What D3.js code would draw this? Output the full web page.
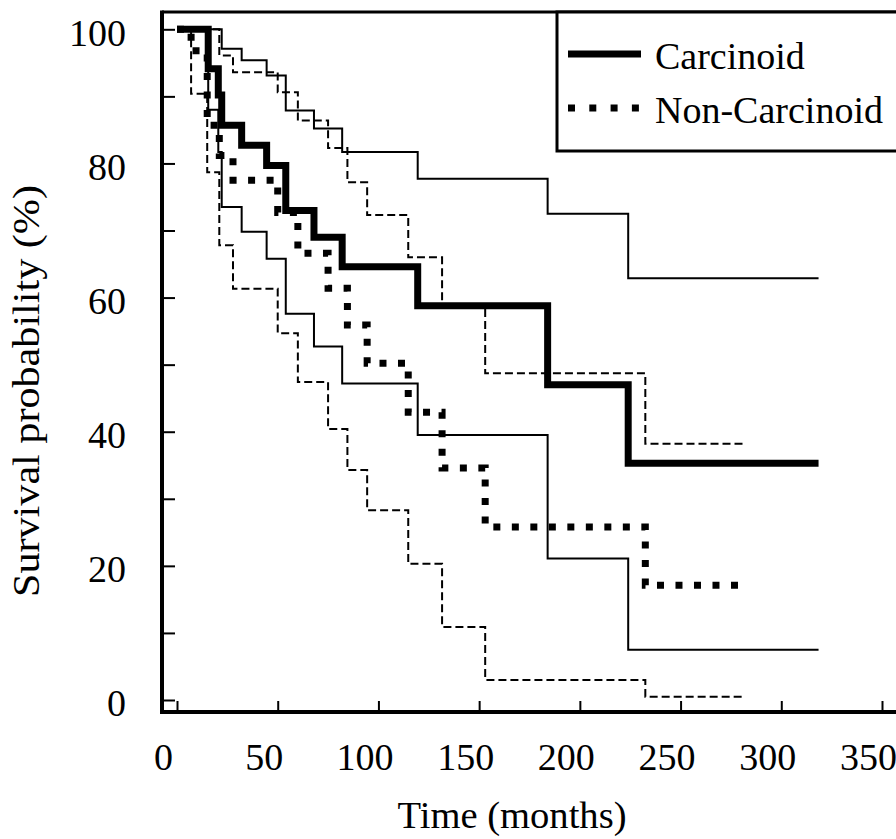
<!DOCTYPE html>
<html>
<head>
<meta charset="utf-8">
<script src="https://cdn.jsdelivr.net/npm/d3@7"></script>
<style>
  html, body { margin: 0; padding: 0; background: #fff; }
  svg { display: block; }
  text { font-family: "Liberation Serif", "Times New Roman", serif; fill: #000; }
</style>
</head>
<body>
<svg id="chart" width="896" height="839"></svg>
<script>
// Kaplan–Meier survival (%) by time (months), with 95% confidence bands.
// Each step holds its value until the next listed time; last entry = end of follow-up.
const carcinoidTime  = [0, 15.5, 20.5, 22.2, 32.1, 44.5, 54, 68, 82, 119.5, 184, 224, 318.5];
const carcinoidSurv  = [100, 94.1, 90.2, 85.7, 82.7, 79.7, 73.0, 69.0, 64.6, 58.8, 47.0, 35.3, 35.3];

const carcinoidUpperTime = [0, 22.2, 32.1, 44.5, 54, 68, 82, 119.5, 184, 224, 318.5];
const carcinoidUpper     = [100, 97.1, 95.4, 93.1, 87.9, 85.2, 81.7, 77.7, 72.5, 62.9, 62.9];

const carcinoidLowerTime = [0, 15.5, 20.5, 22.2, 32.1, 44.5, 54, 68, 82, 119.5, 184, 224, 318.5];
const carcinoidLower     = [100, 88.0, 81.7, 73.5, 69.8, 65.8, 57.6, 52.7, 47.2, 39.5, 21.1, 7.5, 7.5];

const nonCarcTime  = [0, 7, 15, 21, 27.8, 50, 60, 75, 84.6, 94.4, 114.8, 131.6, 153, 232.5, 280];
const nonCarcSurv  = [100, 96.8, 85.7, 81.2, 77.5, 72.7, 66.6, 61.4, 55.9, 50.2, 42.9, 34.6, 25.8, 17.1, 17.1];

const nonCarcUpperTime = [0, 21, 27.8, 50, 60, 75, 84.6, 94.4, 114.8, 131.6, 153, 232.5, 281];
const nonCarcUpper     = [100, 96.1, 93.6, 90.6, 86.4, 82.3, 77.2, 72.3, 66.0, 58.9, 48.7, 38.2, 38.2];

const nonCarcLowerTime = [0, 7, 15, 21, 27.8, 50, 60, 75, 84.6, 94.4, 114.8, 131.6, 153, 232.5, 282];
const nonCarcLower     = [100, 90.4, 78.7, 67.8, 61.3, 54.7, 47.4, 40.4, 34.3, 28.3, 20.3, 10.9, 3.0, 0.5, 0.5];

const xTicks = [0, 50, 100, 150, 200, 250, 300, 350];
const yTicks = [0, 10, 20, 30, 40, 50, 60, 70, 80, 90, 100];
const yLabelStep = 20;
const seriesNames = ["Carcinoid", "Non-Carcinoid"];
const xTitle = "Time (months)";
const yTitle = "Survival probability (%)";

const svg = d3.select("#chart");
const fontSize = 38;

const x = d3.scaleLinear().domain([0, 350]).range([177, 882]);
const y = d3.scaleLinear().domain([0, 100]).range([700, 29.3]);

const frame = { left: 162, top: 12, bottom: 712, right: 906 };

// plot frame (right edge runs off the page)
svg.append("line").attr("x1", frame.left).attr("x2", frame.right)
  .attr("y1", frame.top).attr("y2", frame.top)
  .attr("stroke", "#000").attr("stroke-width", 3);
svg.append("line").attr("x1", frame.left).attr("x2", frame.left)
  .attr("y1", frame.top - 1.5).attr("y2", frame.bottom + 2)
  .attr("stroke", "#000").attr("stroke-width", 4);
svg.append("line").attr("x1", frame.left - 2).attr("x2", frame.right)
  .attr("y1", frame.bottom).attr("y2", frame.bottom)
  .attr("stroke", "#000").attr("stroke-width", 4);

// y axis: ticks point inward, labels every 20
const yAxis = svg.append("g")
  .attr("transform", `translate(${frame.left},0)`)
  .call(d3.axisLeft(y).tickValues(yTicks).tickSize(-13).tickPadding(36)
    .tickFormat(d => d % yLabelStep === 0 ? d : ""));
yAxis.select(".domain").remove();
yAxis.selectAll(".tick line").attr("stroke", "#000").attr("stroke-width", 2);
yAxis.selectAll(".tick text")
  .attr("font-size", fontSize).attr("font-family", "Liberation Serif")
  .attr("dy", "0.42em");

// x axis: ticks point inward
const xAxis = svg.append("g")
  .attr("transform", `translate(0,${frame.bottom})`)
  .call(d3.axisBottom(x).tickValues(xTicks).tickSize(-11).tickPadding(31));
xAxis.select(".domain").remove();
xAxis.selectAll(".tick line").attr("stroke", "#000").attr("stroke-width", 2);
xAxis.selectAll(".tick text")
  .attr("font-size", fontSize).attr("font-family", "Liberation Serif")
  .attr("dx", -14);

// axis titles
svg.append("text")
  .attr("x", 512).attr("y", 828)
  .attr("text-anchor", "middle").attr("font-size", fontSize)
  .attr("textLength", 229).attr("lengthAdjust", "spacingAndGlyphs")
  .text(xTitle);
svg.append("text")
  .attr("transform", "translate(39,391) rotate(-90)")
  .attr("text-anchor", "middle").attr("font-size", fontSize)
  .attr("textLength", 412).attr("lengthAdjust", "spacingAndGlyphs")
  .text(yTitle);

// survival curves
const step = d3.line()
  .x(d => x(d[0])).y(d => y(d[1]))
  .curve(d3.curveStepAfter);

const zip = (t, s) => t.map((v, i) => [v, s[i]]);

const curves = [
  { data: zip(carcinoidUpperTime, carcinoidUpper), width: 2, dash: null },
  { data: zip(carcinoidLowerTime, carcinoidLower), width: 2, dash: null },
  { data: zip(nonCarcUpperTime, nonCarcUpper), width: 2, dash: "8,4" },
  { data: zip(nonCarcLowerTime, nonCarcLower), width: 2, dash: "8,4" },
  { data: zip(nonCarcTime, nonCarcSurv), width: 7, dash: "7,11.5" },
  { data: zip(carcinoidTime, carcinoidSurv), width: 7, dash: null }
];

svg.append("g").selectAll("path")
  .data(curves)
  .join("path")
  .attr("d", c => step(c.data))
  .attr("fill", "none")
  .attr("stroke", "#000")
  .attr("stroke-width", c => c.width)
  .attr("stroke-dasharray", c => c.dash)
  .attr("stroke-linejoin", "miter")
  .attr("stroke-linecap", "butt");

// legend
const legend = svg.append("g");
legend.append("rect")
  .attr("x", 557).attr("y", frame.top)
  .attr("width", frame.right - 557).attr("height", 139)
  .attr("fill", "#fff").attr("stroke", "#000").attr("stroke-width", 3);
const legendRows = [
  { name: seriesNames[0], y: 54, dash: null },
  { name: seriesNames[1], y: 108, dash: "7,14.3" }
];
legendRows.forEach(r => {
  legend.append("line")
    .attr("x1", 568).attr("x2", 641).attr("y1", r.y).attr("y2", r.y)
    .attr("stroke", "#000").attr("stroke-width", 7)
    .attr("stroke-dasharray", r.dash);
  legend.append("text")
    .attr("x", 655).attr("y", r.y + 15)
    .attr("font-size", fontSize)
    .text(r.name);
});
</script>
</body>
</html>
